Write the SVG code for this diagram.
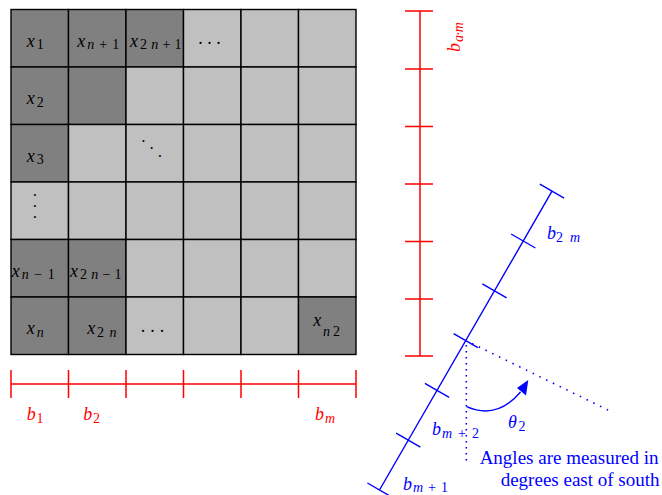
<svg xmlns="http://www.w3.org/2000/svg" width="662" height="495" viewBox="0 0 662 495">
<style>
.d{fill:#808080;stroke:#000;stroke-width:1.4}
.l{fill:#c0c0c0;stroke:#000;stroke-width:1.4}
.m{font-family:"Liberation Serif",serif;font-style:italic;font-size:18px;fill:#000}
.s{font-family:"Liberation Serif",serif;font-style:italic;font-size:14px;fill:#000}
.n{font-style:normal}
.dot{font-family:"Liberation Serif",serif;font-size:18px;fill:#000;text-anchor:middle}
.sd{font-family:"Liberation Serif",serif;font-size:8px;fill:#000;text-anchor:middle}
.red{stroke:#ff0000;stroke-width:1.5;fill:none}
.blue{stroke:#0000ff;stroke-width:1.4;fill:none}
.rt{fill:#ff0000}
.bt{fill:#0000ff}
.dotted{stroke:#0000ff;stroke-width:1.6;fill:none}
.txt{font-family:"Liberation Serif",serif;font-size:19px;fill:#0000ff;text-anchor:end}
</style>
<g id="grid">
<g id="c00"><rect class="d" x="11" y="9.5" width="57.5" height="57.5"/><text class="m" x="26.7" y="46.5">x</text><text class="s n" x="36.7" y="49.2">1</text></g>
<g id="c01"><rect class="d" x="68.5" y="9.5" width="57.5" height="57.5"/><text class="m" x="77.3" y="46.5">x</text><text class="s" x="87.3" y="49.2" textLength="32" lengthAdjust="spacing">n<tspan class="n">+1</tspan></text></g>
<g id="c02"><rect class="d" x="126" y="9.5" width="57.5" height="57.5"/><text class="m" x="130" y="46.5">x</text><text class="s" x="140" y="49.2" textLength="41.5" lengthAdjust="spacing"><tspan class="n">2</tspan>n<tspan class="n">+1</tspan></text></g>
<g id="c03"><rect class="l" x="183.5" y="9.5" width="57.5" height="57.5"/><text class="dot" y="49"><tspan x="200.5">·</tspan><tspan x="209.5">·</tspan><tspan x="218.5">·</tspan></text></g>
<g id="c04"><rect class="l" x="241" y="9.5" width="57.5" height="57.5"/></g>
<g id="c05"><rect class="l" x="298.5" y="9.5" width="57.5" height="57.5"/></g>

<g id="c10"><rect class="d" x="11" y="67" width="57.5" height="57.5"/><text class="m" x="26.7" y="104">x</text><text class="s n" x="36.7" y="106.7">2</text></g>
<g id="c11"><rect class="d" x="68.5" y="67" width="57.5" height="57.5"/></g>
<g id="c12"><rect class="l" x="126" y="67" width="57.5" height="57.5"/></g>
<g id="c13"><rect class="l" x="183.5" y="67" width="57.5" height="57.5"/></g>
<g id="c14"><rect class="l" x="241" y="67" width="57.5" height="57.5"/></g>
<g id="c15"><rect class="l" x="298.5" y="67" width="57.5" height="57.5"/></g>

<g id="c20"><rect class="d" x="11" y="124.5" width="57.5" height="57.5"/><text class="m" x="26.7" y="161.5">x</text><text class="s n" x="36.7" y="164.2">3</text></g>
<g id="c21"><rect class="l" x="68.5" y="124.5" width="57.5" height="57.5"/></g>
<g id="c22"><rect class="l" x="126" y="124.5" width="57.5" height="57.5"/><text class="sd"><tspan x="143.3" y="143.7">•</tspan><tspan x="151.7" y="151">•</tspan><tspan x="160" y="158.7">•</tspan></text></g>
<g id="c23"><rect class="l" x="183.5" y="124.5" width="57.5" height="57.5"/></g>
<g id="c24"><rect class="l" x="241" y="124.5" width="57.5" height="57.5"/></g>
<g id="c25"><rect class="l" x="298.5" y="124.5" width="57.5" height="57.5"/></g>

<g id="c30"><rect class="l" x="11" y="182" width="57.5" height="57.5"/><text class="sd"><tspan x="35" y="197.7">•</tspan><tspan x="35" y="208.7">•</tspan><tspan x="35" y="220.4">•</tspan></text></g>
<g id="c31"><rect class="l" x="68.5" y="182" width="57.5" height="57.5"/></g>
<g id="c32"><rect class="l" x="126" y="182" width="57.5" height="57.5"/></g>
<g id="c33"><rect class="l" x="183.5" y="182" width="57.5" height="57.5"/></g>
<g id="c34"><rect class="l" x="241" y="182" width="57.5" height="57.5"/></g>
<g id="c35"><rect class="l" x="298.5" y="182" width="57.5" height="57.5"/></g>

<g id="c40"><rect class="d" x="11" y="239.5" width="57.5" height="57.5"/><text class="m" x="11.7" y="276.5">x</text><text class="s" x="21.7" y="279.2" textLength="33" lengthAdjust="spacing">n<tspan class="n">−1</tspan></text></g>
<g id="c41"><rect class="d" x="68.5" y="239.5" width="57.5" height="57.5"/><text class="m" x="70" y="276.5">x</text><text class="s" x="80" y="279.2" textLength="41.5" lengthAdjust="spacing"><tspan class="n">2</tspan>n<tspan class="n">−1</tspan></text></g>
<g id="c42"><rect class="l" x="126" y="239.5" width="57.5" height="57.5"/></g>
<g id="c43"><rect class="l" x="183.5" y="239.5" width="57.5" height="57.5"/></g>
<g id="c44"><rect class="l" x="241" y="239.5" width="57.5" height="57.5"/></g>
<g id="c45"><rect class="l" x="298.5" y="239.5" width="57.5" height="57.5"/></g>

<g id="c50"><rect class="d" x="11" y="297" width="57.5" height="57.5"/><text class="m" x="26.7" y="334">x</text><text class="s" x="36.7" y="336.7">n</text></g>
<g id="c51"><rect class="d" x="68.5" y="297" width="57.5" height="57.5"/><text class="m" x="87.3" y="334">x</text><text class="s" x="97" y="336.7" textLength="19.5" lengthAdjust="spacing"><tspan class="n">2</tspan>n</text></g>
<g id="c52"><rect class="l" x="126" y="297" width="57.5" height="57.5"/><text class="dot" y="337.2"><tspan x="143">·</tspan><tspan x="152.5">·</tspan><tspan x="162">·</tspan></text></g>
<g id="c53"><rect class="l" x="183.5" y="297" width="57.5" height="57.5"/></g>
<g id="c54"><rect class="l" x="241" y="297" width="57.5" height="57.5"/></g>
<g id="c55"><rect class="d" x="298.5" y="297" width="57.5" height="57.5"/><text class="m" x="313.3" y="326">x</text><text class="s" x="323" y="335.5" textLength="17" lengthAdjust="spacing">n<tspan class="n">2</tspan></text></g>
</g>

<g id="ruler-bottom">
<path class="red" d="M11,384H356M11,370V398M68.5,370V398M126,370V398M183.5,370V398M241,370V398M298.5,370V398M356,370V398"/>
<text class="m rt" x="26.7" y="420">b</text><text class="s n rt" x="36.5" y="423">1</text>
<text class="m rt" x="83.3" y="420">b</text><text class="s n rt" x="93" y="423">2</text>
<text class="m rt" x="315" y="420">b</text><text class="s rt" x="325" y="423" textLength="13" lengthAdjust="spacing">m</text>
</g>

<g id="ruler-right">
<path class="red" d="M420,11V356M405,11H433M405,69H433M405,126.5H433M405,184H433M405,241.5H433M405,299H433M405,356H433"/>
<g transform="translate(460,52) rotate(-90)">
<text class="m rt" x="0" y="0">b</text><text class="s rt" x="10" y="3" textLength="20" lengthAdjust="spacing">a<tspan class="n">·</tspan>m</text>
</g>
</g>

<g id="ruler-blue">
<g transform="translate(379.5,490) rotate(-60)">
<path class="blue" d="M0,0H345M0,-14V14M57.5,-14V14M115,-14V14M172.5,-14V14M230,-14V14M287.5,-14V14M345,-14V14"/>
</g>
<text class="m bt" x="547" y="238.5">b</text><text class="s bt" x="556" y="241.5" textLength="24" lengthAdjust="spacing"><tspan class="n">2</tspan>m</text>
<text class="m bt" x="432" y="435">b</text><text class="s bt" x="442" y="438" textLength="37" lengthAdjust="spacing">m<tspan class="n">+2</tspan></text>
<text class="m bt" x="403" y="489.5">b</text><text class="s bt" x="413" y="492.3" textLength="35" lengthAdjust="spacing">m<tspan class="n">+1</tspan></text>
</g>

<g id="connectors">
<path class="dotted" d="M466.3,345V465" stroke-dasharray="1.5 4.5"/>
<path class="dotted" d="M472,343.5L611,411.5" stroke-dasharray="1.5 6"/>
<path class="blue" stroke-width="1.6" d="M466.7,406.7Q497,420 520.5,392"/>
<polygon fill="#0000ff" points="528.3,380 517,388 526,395.5"/>
</g>

<g id="angle-label">
<text class="m bt" x="508" y="428">θ</text><text class="s n bt" x="518.5" y="431">2</text>
</g>

<g id="note">
<text class="txt" x="658.5" y="463.5">Angles are measured in</text>
<text class="txt" x="659.5" y="485.5">degrees east of south</text>
</g>
</svg>
